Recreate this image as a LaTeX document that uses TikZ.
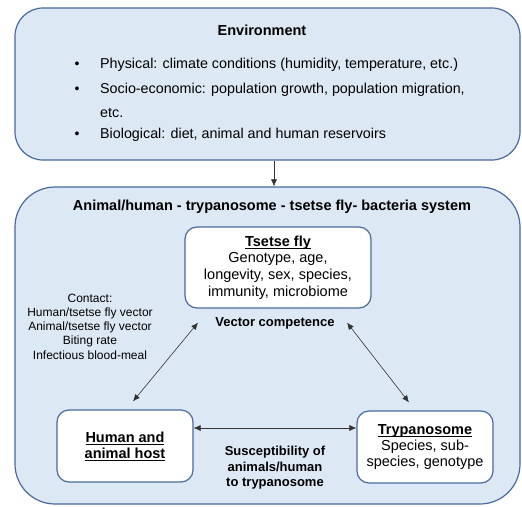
\documentclass[tikz,border=0pt]{standalone}
\usepackage{fontspec}
\setmainfont{Liberation Sans}
\usetikzlibrary{arrows.meta}
\definecolor{boxfill}{HTML}{DCE9F5}
\definecolor{boxline}{HTML}{4A6A9C}
\newcommand\myul[1]{\setbox0\hbox{#1}\rlap{\rule[-2.3pt]{\wd0}{0.9pt}}\box0}
\tikzset{
  bigbox/.style={draw=boxline, fill=boxfill, line width=1.2pt, rounded corners=#1, inner sep=0pt},
  smallbox/.style={draw=boxline, fill=white, line width=1.2pt, rounded corners=12pt, inner sep=0pt, align=center},
  txt/.style={inner sep=0pt, align=center},
  arr/.style={-{Latex[length=7pt,width=6pt]}, line width=0.6pt, draw=black!80},
  darr/.style={{Latex[length=7pt,width=6pt]}-{Latex[length=7pt,width=6pt]}, line width=0.6pt, draw=black!80},
}
\begin{document}
\begin{tikzpicture}[x=1pt,y=-1pt]
\useasboundingbox (0,0) rectangle (522,506);
% environment
\node[bigbox=28pt, minimum width=505pt, minimum height=152pt] (env) at (267.5,84) {};
\node[txt, font=\fontsize{14.5}{16}\selectfont\bfseries] (envt) at (262,30) {Environment};
\node[txt, font=\fontsize{14}{16}\selectfont] (b1) at (77,65) {•};
\node[txt, font=\fontsize{14}{16}\selectfont] (b2) at (77,90) {•};
\node[txt, font=\fontsize{14}{16}\selectfont] (b3) at (77,135) {•};
\node[txt, anchor=west, font=\fontsize{14.3}{16}\selectfont] (l1) at (100,65) {Physical: climate conditions (humidity, temperature, etc.)};
\node[txt, anchor=west, font=\fontsize{14.3}{16}\selectfont] (l2) at (100,90) {Socio-economic: population growth, population migration,};
\node[txt, anchor=west, font=\fontsize{14.3}{16}\selectfont] (l3) at (100,113) {etc.};
\node[txt, anchor=west, font=\fontsize{14.3}{16}\selectfont] (l4) at (100,135) {Biological: diet, animal and human reservoirs};
% system
\node[bigbox=40pt, minimum width=505pt, minimum height=317pt] (sys) at (267.5,345.5) {};
\node[txt, font=\fontsize{14.5}{16}\selectfont\bfseries] (syst) at (272,207) {Animal/human - trypanosome - tsetse fly- bacteria system};
\draw[arr] ([xshift=6.5pt]env.south) -- ([xshift=6.5pt]sys.north);
% tsetse
\node[smallbox, minimum width=186pt, minimum height=81pt, font=\fontsize{14.5}{16.7}\selectfont] (tsetse) at (278,267.5)
  {\textbf{\myul{Tsetse fly}}\\Genotype, age,\\longevity, sex, species,\\immunity, microbiome};
\node[txt, font=\fontsize{13}{16}\selectfont\bfseries] (vc) at (275,323) {Vector competence};
% contact
\node[txt, font=\fontsize{12}{14.3}\selectfont] (contact) at (90,326.5)
  {Contact:\\Human/tsetse fly vector\\Animal/tsetse fly vector\\Biting rate\\Infectious blood-meal};
% host
\node[smallbox, minimum width=136pt, minimum height=72pt, font=\fontsize{14.5}{16}\selectfont\bfseries] (host) at (125,446)
  {\myul{Human and}\\\myul{animal host}};
% trypanosome
\node[smallbox, minimum width=136pt, minimum height=72pt, font=\fontsize{14.5}{16}\selectfont] (tryp) at (425,447)
  {\textbf{\myul{Trypanosome}}\\Species, sub-\\species, genotype};
\node[txt, font=\fontsize{13}{15.5}\selectfont\bfseries] (susc) at (275,468)
  {Susceptibility of\\animals/human\\to trypanosome};
% arrows
\draw[darr] ([xshift=-80pt,yshift=-14pt]tsetse.south) -- ([xshift=8pt,yshift=8pt]host.north);
\draw[darr] ([xshift=69pt,yshift=-14pt]tsetse.south) -- ([xshift=-16pt,yshift=8pt]tryp.north);
\draw[darr] ([yshift=18pt]host.east) -- ([yshift=18pt]host.east -| tryp.west);
\end{tikzpicture}
\end{document}
